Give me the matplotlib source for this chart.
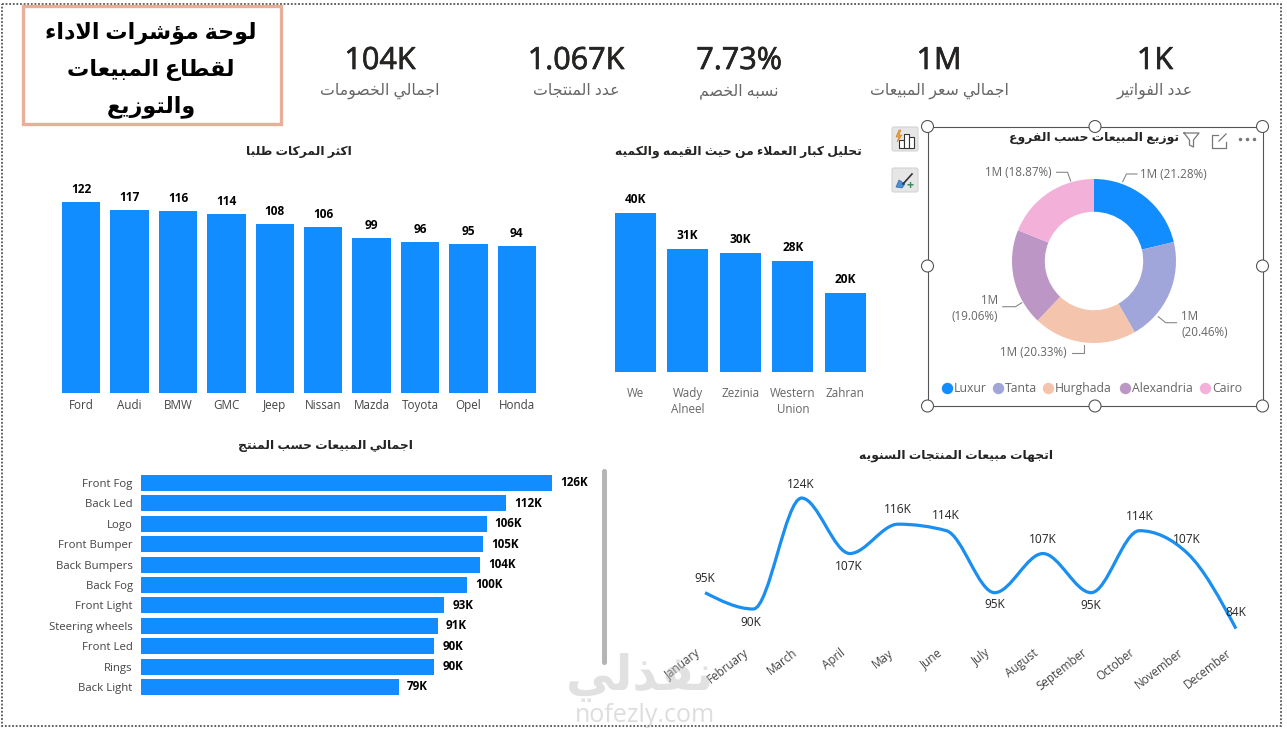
import matplotlib
matplotlib.use('Agg')
import matplotlib.pyplot as plt
import matplotlib.patheffects as pe
from matplotlib.lines import Line2D
from matplotlib.patches import Circle, FancyBboxPatch, PathPatch, Polygon, Rectangle
from matplotlib.path import Path
from matplotlib.transforms import ScaledTranslation

W, H = 1287, 730
BLUE = '#118DFF'
FONT = ['Open Sans', 'DejaVu Sans']
plt.rcParams['font.family'] = FONT

# data
kpi_values = ['104K', '1.067K', '7.73%', '1M', '1K']
kpi_names = ['اجمالي الخصومات', 'عدد المنتجات', 'نسبه الخصم', 'اجمالي سعر المبيعات', 'عدد الفواتير']

brands = ['Ford', 'Audi', 'BMW', 'GMC', 'Jeep', 'Nissan', 'Mazda', 'Toyota', 'Opel', 'Honda']
brand_orders = [122, 117, 116, 114, 108, 106, 99, 96, 95, 94]

customers = ['We', 'Wady\nAlneel', 'Zezinia', 'Western\nUnion', 'Zahran']
customer_sales = [40, 31, 30, 28, 20]

branches = ['Luxur', 'Tanta', 'Hurghada', 'Alexandria', 'Cairo']
branch_share = [21.28, 20.46, 20.33, 19.06, 18.87]
branch_colors = ['#118DFF', '#A0A6D9', '#F4C4AC', '#BC97C6', '#F3B1DA']

products = ['Front Fog', 'Back Led', 'Logo', 'Front Bumper', 'Back Bumpers', 'Back Fog',
            'Front Light', 'Steering wheels', 'Front Led', 'Rings', 'Back Light']
product_sales = [126, 112, 106, 105, 104, 100, 93, 91, 90, 90, 79]

months = ['January', 'February', 'March', 'April', 'May', 'June', 'July', 'August',
          'September', 'October', 'November', 'December']
month_sales = [95, 90, 124, 107, 116, 114, 95, 107, 95, 114, 107, 84]

# label offsets for the line chart, in pixels
month_dx = [0, -2, -1, -1, 0, -1, 0, 0, 0, 0, -1, 0]
month_dy = [-14, 13, -14, 13, -15, -15, 12, -14, 13, -14, -14, -16]


# matplotlib does no Arabic shaping, so map letters to presentation forms by hand
FORMS = {'ء': (0xFE80, 1), 'آ': (0xFE81, 2), 'أ': (0xFE83, 2), 'ؤ': (0xFE85, 2), 'إ': (0xFE87, 2),
         'ئ': (0xFE89, 4), 'ا': (0xFE8D, 2), 'ب': (0xFE8F, 4), 'ة': (0xFE93, 2), 'ت': (0xFE95, 4),
         'ث': (0xFE99, 4), 'ج': (0xFE9D, 4), 'ح': (0xFEA1, 4), 'خ': (0xFEA5, 4), 'د': (0xFEA9, 2),
         'ذ': (0xFEAB, 2), 'ر': (0xFEAD, 2), 'ز': (0xFEAF, 2), 'س': (0xFEB1, 4), 'ش': (0xFEB5, 4),
         'ص': (0xFEB9, 4), 'ض': (0xFEBD, 4), 'ط': (0xFEC1, 4), 'ظ': (0xFEC5, 4), 'ع': (0xFEC9, 4),
         'غ': (0xFECD, 4), 'ف': (0xFED1, 4), 'ق': (0xFED5, 4), 'ك': (0xFED9, 4), 'ل': (0xFEDD, 4),
         'م': (0xFEE1, 4), 'ن': (0xFEE5, 4), 'ه': (0xFEE9, 4), 'و': (0xFEED, 2), 'ى': (0xFEEF, 2),
         'ي': (0xFEF1, 4)}


def ar(text):
    lines = []
    for line in text.split('\n'):
        out = []
        i = 0
        while i < len(line):
            c = line[i]
            if c not in FORMS:
                out.append(c)
                i += 1
                continue
            prev = line[i - 1] if i > 0 else ' '
            joins_prev = prev in FORMS and FORMS[prev][1] == 4
            nxt = line[i + 1] if i + 1 < len(line) else ' '
            if c == 'ل' and nxt == 'ا':
                out.append(chr(0xFEFC if joins_prev else 0xFEFB))
                i += 2
                continue
            base, n = FORMS[c]
            joins_next = n == 4 and nxt in FORMS
            if n == 1:
                code = base
            elif joins_prev and joins_next:
                code = base + 3
            elif joins_next:
                code = base + 2
            elif joins_prev:
                code = base + 1
            else:
                code = base
            out.append(chr(code))
            i += 1
        lines.append(''.join(reversed(out)))
    return '\n'.join(lines)


def axes_px(l, t, r, b):
    ax = fig.add_axes([l / W, 1 - b / H, (r - l) / W, (b - t) / H])
    ax.patch.set_visible(False)
    for s in ax.spines.values():
        s.set_visible(False)
    ax.tick_params(length=0)
    return ax


def sign(v):
    return (v > 0) - (v < 0)


fig = plt.figure(figsize=(W / 100, H / 100), dpi=100, facecolor='white')

# pixel overlay for text, frames and icons
ov = fig.add_axes([0, 0, 1, 1], zorder=5)
ov.set_xlim(0, W)
ov.set_ylim(H, 0)
ov.axis('off')
ov.patch.set_visible(False)

ov.add_patch(Rectangle((2, 4), 1279, 722, fill=False, ec='#555555', lw=1.3, ls=(0, (1, 1))))
ov.add_patch(Rectangle((23, 6), 258, 118, fc='white', ec='#E8AF98', lw=2.4))
for y, line in zip([33, 70, 107], ['لوحة مؤشرات الاداء', 'لقطاع المبيعات', 'والتوزيع']):
    ov.text(151, y, ar(line), ha='center', va='center', fontsize=16, fontweight='bold', color='black')

kpi_x = [380, 576, 739, 939, 1155]
for x, v, n in zip(kpi_x, kpi_values, kpi_names):
    t = ov.text(x, 61, v, ha='center', va='center', fontsize=22, color='#252423')
    t.set_path_effects([pe.withStroke(linewidth=0.5, foreground='#252423')])
    ov.text(x, 91, ar(n), ha='center', va='center', fontsize=11.3, color='#666666')

titles = [('اكثر المركات طلبا', 299, 151), ('تحليل كبار العملاء من حيث القيمه والكميه', 738, 151),
          ('توزيع المبيعات حسب الفروع', 1094, 138), ('اجمالي المبيعات حسب المنتج', 326, 446),
          ('اتجهات مبيعات المنتجات السنويه', 956, 455)]
for t, x, y in titles:
    ov.text(x, y, ar(t), ha='center', va='center', fontsize=8.9, fontweight='bold', color='#252423')

# brands column chart
ax1 = axes_px(57, 183, 541, 392.7)
ax1.bar(range(len(brands)), brand_orders, width=0.79, color=BLUE)
ax1.set_xlim(-0.5, 9.5)
ax1.set_ylim(0, 134)
ax1.set_yticks([])
ax1.set_xticks(range(len(brands)), brands, fontsize=8.4, color='#444444')
ax1.tick_params(axis='x', pad=4.5)
for i, v in enumerate(brand_orders):
    ax1.annotate(str(v), (i, v), xytext=(0, 6), textcoords='offset pixels', ha='center', va='bottom',
                 fontsize=8.6, fontweight='bold', color='black')

# customers column chart
ax2 = axes_px(609, 190, 871.5, 371.7)
ax2.bar(range(len(customers)), customer_sales, width=0.775, color=BLUE)
ax2.set_xlim(-0.5, 4.5)
ax2.set_ylim(0, 45.9)
ax2.set_yticks([])
ax2.set_xticks(range(len(customers)), customers, fontsize=8.4, color='#666666', linespacing=1.3)
ax2.tick_params(axis='x', pad=11)
for i, v in enumerate(customer_sales):
    ax2.annotate(f'{v}K', (i, v), xytext=(0, 7), textcoords='offset pixels', ha='center', va='bottom',
                 fontsize=8.6, fontweight='bold', color='black')

# branches donut
ax3 = axes_px(1012, 179, 1176, 343)
wedges, _ = ax3.pie(branch_share, colors=branch_colors, startangle=90, counterclock=False, radius=1,
                    wedgeprops={'width': 0.4})
ax3.set_xlim(-1, 1)
ax3.set_ylim(-1, 1)

leaders = [[(1122.7, 181.7), (1126.4, 174), (1137, 174)],
           [(1158.3, 316.7), (1165.7, 322.7), (1176.5, 322.7)],
           [(1084.4, 345), (1084.4, 352.7), (1071.6, 352.7)],
           [(1021.8, 302.7), (1015.5, 306.7), (1002.7, 306.7)],
           [(1070.6, 181), (1067.6, 172.3), (1056.5, 172.3)]]
for pts in leaders:
    ov.plot(*zip(*pts), color='#888888', lw=0.8)
pie_text = [(1140, 174, f'1M ({branch_share[0]:.2f}%)', 'left'),
            (1181, 324, f'1M\n({branch_share[1]:.2f}%)', 'left'),
            (1067, 353, f'1M ({branch_share[2]:.2f}%)', 'right'),
            (998, 308, f'1M\n({branch_share[3]:.2f}%)', 'right'),
            (1052, 173, f'1M ({branch_share[4]:.2f}%)', 'right')]
for x, y, s, ha in pie_text:
    ov.text(x, y, s, ha=ha, va='center', fontsize=8.4, color='#666666', linespacing=1.3, multialignment=ha)

legend_dot = [947, 998, 1048, 1125, 1205]
for x, name, c in zip(legend_dot, branches, branch_colors):
    ov.add_line(Line2D([x], [388], marker='o', ms=7.2, color=c, ls=''))
    ov.text(x + 7, 392, name, ha='left', va='baseline', fontsize=8.8, color='#666666')

# selection frame of the donut visual
ov.add_patch(Rectangle((927.5, 126.5), 335, 279.5, fill=False, ec='#555555', lw=0.8))
for x in [927.5, 1095, 1262.5]:
    for y in [126.5, 266, 406]:
        if x == 1095 and y == 266:
            continue
        ov.add_patch(Circle((x, y), 6, fc='white', ec='#555555', lw=0.8))

# header icons
ov.add_line(Line2D([1184, 1199, 1193.5, 1193.5, 1189.5, 1189.5, 1184],
                   [133, 133, 140, 147, 145, 140, 133], color='#777777', lw=0.9))
ov.add_line(Line2D([1218, 1212, 1212, 1226, 1226], [135, 135, 148, 148, 142], color='#777777', lw=0.9))
ov.add_line(Line2D([1219, 1226, 1226], [141, 134, 134], color='#777777', lw=0.9))
ov.add_line(Line2D([1240, 1247, 1254], [139, 139, 139], marker='o', ms=1.5, color='#777777', ls=''))

# format buttons
for y in [127, 168]:
    ov.add_patch(FancyBboxPatch((892, y), 26, 24, boxstyle='round,pad=0,rounding_size=2',
                                fc='#E6E6E6', ec='#D4D4D4', lw=0.8))
for x, top in [(899, 140), (904, 134), (909, 137)]:
    ov.add_patch(Rectangle((x, top), 5, 148 - top, fc='white', ec='#333333', lw=0.8))
ov.add_patch(Polygon([(899, 130), (896, 137), (899, 137), (897, 142), (902, 135), (899, 135), (901, 130)],
                     fc='#F2A33A', ec='#C8781E', lw=0.4))
ov.add_line(Line2D([903, 912], [184, 174], color='#333333', lw=1.2))
ov.add_patch(Polygon([(896, 187), (899, 180), (905, 184), (902, 188)], fc='#4A90D9', ec='#2E6DA8', lw=0.5))
ov.text(910, 185, '+', ha='center', va='center', fontsize=9, fontweight='bold', color='#3C8D5A')

# products bar chart
ax4 = axes_px(141, 472.8, 597.4, 697.2)
ax4.barh(range(len(products)), product_sales, height=0.78, color=BLUE)
ax4.set_ylim(10.5, -0.5)
ax4.set_xlim(0, 140)
ax4.set_xticks([])
ax4.set_yticks(range(len(products)), products, fontsize=8.2, color='#444444')
ax4.tick_params(axis='y', pad=6)
for i, v in enumerate(product_sales):
    ax4.annotate(f'{v}K', (v, i), xytext=(8, 0), textcoords='offset pixels', ha='left', va='center',
                 fontsize=8.4, fontweight='bold', color='black')

# scrollbar
ov.add_patch(FancyBboxPatch((602, 469), 5, 196, boxstyle='round,pad=0,rounding_size=2.5', fc='#B5B5B5', ec='none'))

# monthly line chart, monotone curve through the points
ax5 = axes_px(680.9, 470, 1260.1, 640)
ax5.set_xlim(-0.5, 11.5)
ax5.set_ylim(80.5, 132.6)
ax5.set_yticks([])
xs = list(range(len(months)))
n = len(xs)
steps = [month_sales[i + 1] - month_sales[i] for i in range(n - 1)]
slopes = [0.0] * n
for i in range(1, n - 1):
    a, b = steps[i - 1], steps[i]
    slopes[i] = (sign(a) + sign(b)) * min(abs(a), abs(b), 0.25 * abs(a + b))
slopes[0] = (3 * steps[0] - slopes[1]) / 2
slopes[-1] = (3 * steps[-1] - slopes[-2]) / 2
verts = [(xs[0], month_sales[0])]
codes = [Path.MOVETO]
for i in range(n - 1):
    verts += [(xs[i] + 1 / 3, month_sales[i] + slopes[i] / 3),
              (xs[i] + 2 / 3, month_sales[i + 1] - slopes[i + 1] / 3),
              (xs[i + 1], month_sales[i + 1])]
    codes += [Path.CURVE4] * 3
ax5.add_patch(PathPatch(Path(verts, codes), fill=False, ec='#1B8FEF', lw=2.3, capstyle='butt'))
ax5.set_xticks(xs, months, fontsize=8.4, color='#444444', rotation=38, ha='right', rotation_mode='anchor')
ax5.tick_params(axis='x', pad=4.5)
shift = ScaledTranslation(-10 / 100, 0, fig.dpi_scale_trans)
for lab in ax5.get_xticklabels():
    lab.set_transform(lab.get_transform() + shift)
for i, v in enumerate(month_sales):
    ax5.annotate(f'{v}K', (i, v), xytext=(month_dx[i], -month_dy[i]), textcoords='offset pixels',
                 ha='center', va='center', fontsize=8.6, color='#252423')

# watermark
ov.text(640, 678, ar('نفذلي'), ha='center', va='center', fontsize=35, fontweight='bold', color='#BDBDBD', alpha=0.45)
ov.text(645, 715, 'nofezly.com', ha='center', va='center', fontsize=18, color='#BDBDBD', alpha=0.5)

fig.savefig('out.png', dpi=100)
